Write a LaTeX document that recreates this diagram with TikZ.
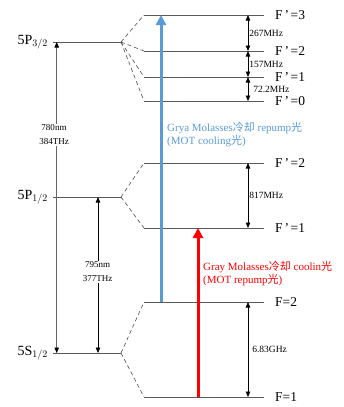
\documentclass[tikz,border=0pt]{standalone}
\usepackage{fontspec}
\setmainfont{Liberation Serif}
\newfontfamily\cjk{Noto Sans CJK SC}
\usetikzlibrary{arrows.meta}
\definecolor{coolblue}{RGB}{91,155,213}
\newcommand{\fp}{F\hspace{2pt}’\hspace{1.5pt}}

\begin{document}
\begin{tikzpicture}[x=1pt,y=-1pt,>=Latex,
  level/.style={draw=gray!70!black,line width=0.9pt},
  split/.style={draw=black!70,dash pattern=on 4pt off 3pt,line width=0.6pt},
  gap/.style={<->,>={Triangle[length=5.5pt,width=4.5pt,color=black]},line width=0.6pt},
  beam/.style={line width=3pt,-{Triangle[length=10pt,width=10pt]}},
  lvl/.style={anchor=east,inner sep=1pt,font=\fontsize{14}{14}\selectfont},
  flbl/.style={anchor=west,inner sep=1pt,font=\fontsize{13.5}{14}\selectfont},
  small/.style={inner sep=1pt,font=\fontsize{9.5}{10}\selectfont},
  wave/.style={fill=white,align=center,inner sep=1pt,font=\fontsize{9}{14}\selectfont},
  note/.style={anchor=north west,align=left,inner sep=0pt,font=\fontsize{11}{13}\selectfont}]
\useasboundingbox (0,0) rectangle (344,407);

% fine structure
\node[lvl] (p32) at (49,42) {5P$_{3/2}$};
\node[lvl] (p12) at (49,197) {5P$_{1/2}$};
\node[lvl] (s12) at (49,353) {5S$_{1/2}$};
\coordinate (p32-r) at (121,42);
\coordinate (p12-r) at (121,197);
\coordinate (s12-r) at (121,353);
\draw[level] (p32.east) ++(4,0) -- (p32-r);
\draw[level] (p12.east) ++(4,0) -- (p12-r);
\draw[level] (s12.east) ++(4,0) -- (s12-r);

% hyperfine levels
\foreach \name/\y/\from/\txt in {f3/15/p32/\fp=3, f2/51/p32/\fp=2, f1/77/p32/\fp=1,
    f0/101/p32/\fp=0, e2/163/p12/\fp=2, e1/228/p12/\fp=1, g2/302/s12/F=2, g1/397/s12/F=1} {
  \coordinate (\name-l) at (144,\y);
  \coordinate (\name-m) at (248,\y);
  \node[flbl] (\name) at (274,\y) {\txt};
  \draw[level,shorten >=10pt] (\name-l) -- (\name.west);
  \draw[split] (\from-r) -- (\name-l);
}

% splittings
\draw[gap] (f3-m) -- node[small,right] {267MHz} (f2-m);
\draw[gap] (f2-m) -- node[small,right] {157MHz} (f1-m);
\draw[gap] (f1-m) -- node[small,right,xshift=4pt] {72.2MHz} (f0-m);
\draw[gap] (e2-m) -- node[small,right] {817MHz} (e1-m);
\draw[gap] (g2-m) -- node[small,right,xshift=3pt] {6.83GHz} (g1-m);

% D lines
\coordinate (d2-t) at (56.7,42);
\coordinate (d2-b) at (56.7,353);
\coordinate (d1-t) at (98,197);
\coordinate (d1-b) at (98,353);
\draw[gap,draw=gray!80!black] (d2-t) -- (d2-b);
\draw[gap] (d1-t) -- (d1-b);
\node[wave] (d2) at (54,135) {780nm\\384THz};
\node[wave] (d1) at (97.5,272) {795nm\\377THz};

% lasers
\coordinate (cool-b) at (161,302);
\coordinate (cool-t) at (161,15);
\coordinate (rep-b) at (198,397);
\coordinate (rep-t) at (198,228);
\draw[beam,coolblue] (cool-b) -- (cool-t);
\draw[beam,red] (rep-b) -- (rep-t);
\node[note,text=coolblue] (cooltxt) at (167,122)
  {Grya Molasses{\cjk 冷却} repump{\cjk 光}\\(MOT cooling{\cjk 光})};
\node[note,text=red] (reptxt) at (203,261)
  {Gray Molasses{\cjk 冷却} coolin{\cjk 光}\\(MOT repump{\cjk 光})};
\end{tikzpicture}
\end{document}
